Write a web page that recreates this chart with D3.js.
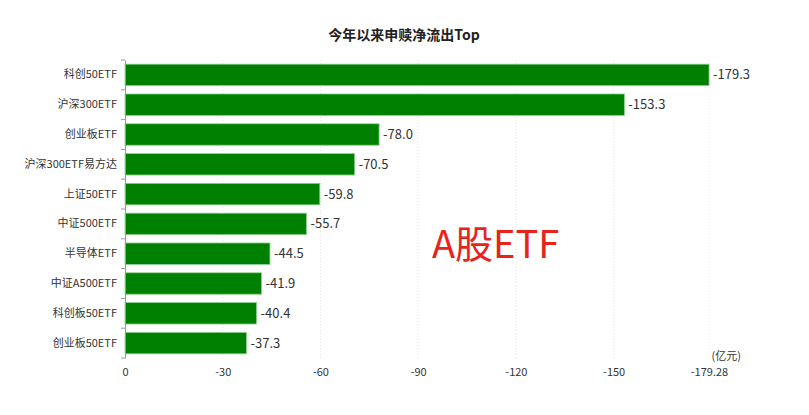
<!DOCTYPE html>
<html><head><meta charset="utf-8">
<script src="https://cdn.jsdelivr.net/npm/d3@7"></script>
<style>body{margin:0;background:#fff;font-family:"Noto Sans CJK SC","Noto Sans",sans-serif}</style>
</head><body><svg id="chart"></svg>
<script>
const categories = ['科创50ETF','沪深300ETF','创业板ETF','沪深300ETF易方达','上证50ETF','中证500ETF','半导体ETF','中证A500ETF','科创板50ETF','创业板50ETF'];
const values = [-179.3,-153.3,-78.0,-70.5,-59.8,-55.7,-44.5,-41.9,-40.4,-37.3];
const ticks = [0,-30,-60,-90,-120,-150,-179.28];

const svg = d3.select('#chart').attr('width', 809).attr('height', 415);
const x = d3.scaleLinear().domain([0, -179.28]).range([125, 709]);
const y = d3.scaleBand().domain(categories).range([60, 358]).paddingInner(0.28).paddingOuter(0.14);

svg.append('text').attr('x', 404).attr('y', 40).attr('text-anchor', 'middle')
  .attr('font-size', 14).attr('font-weight', 'bold').attr('fill', '#222').text('今年以来申赎净流出Top');

svg.append('g').selectAll('line').data(ticks.slice(1)).join('line')
  .attr('x1', d => x(d)).attr('x2', d => x(d)).attr('y1', 60).attr('y2', 358)
  .attr('stroke', '#e6e6e6').attr('stroke-dasharray', '1,2');

svg.append('g').selectAll('rect').data(values).join('rect')
  .attr('x', x(0)).attr('y', (d, i) => y(categories[i]))
  .attr('width', d => x(d) - x(0)).attr('height', y.bandwidth())
  .attr('fill', '#008000').attr('stroke', '#8fd18f').attr('stroke-width', 0.8);

svg.append('g').selectAll('text').data(values).join('text')
  .attr('x', d => x(d) + 4).attr('y', (d, i) => y(categories[i]) + y.bandwidth() / 2)
  .attr('dy', '0.35em').attr('font-size', 13).attr('fill', '#333').text(d => d.toFixed(1));

const yAxis = svg.append('g').attr('transform', 'translate(125,0)')
  .call(d3.axisLeft(y).tickSize(0).tickPadding(8));
yAxis.select('.domain').attr('stroke', '#999');
yAxis.selectAll('text').attr('font-size', 11).attr('fill', '#333').attr('font-family', '"Noto Sans CJK SC",sans-serif');
const step = y.step();
yAxis.selectAll('.sep').data(d3.range(categories.length + 1)).join('line').attr('class', 'sep')
  .attr('x1', -4).attr('x2', 0)
  .attr('y1', i => 60 + i * (298 / categories.length)).attr('y2', i => 60 + i * (298 / categories.length))
  .attr('stroke', '#999');

const xAxis = svg.append('g').attr('transform', 'translate(0,358)')
  .call(d3.axisBottom(x).tickValues(ticks).tickSize(0).tickPadding(10).tickFormat(d => String(d)));
xAxis.select('.domain').remove();
xAxis.selectAll('text').attr('font-size', 11).attr('fill', '#333').attr('font-family', '"Noto Sans CJK SC",sans-serif');

svg.append('text').attr('x', 741).attr('y', 360).attr('text-anchor', 'end')
  .attr('font-size', 11).attr('fill', '#333').text('(亿元)');

svg.append('text').attr('x', 432).attr('y', 258)
  .attr('font-size', 38).attr('fill', '#e8231c').attr('font-family', '"Noto Sans CJK SC",sans-serif').text('A股ETF');
</script></body></html>
